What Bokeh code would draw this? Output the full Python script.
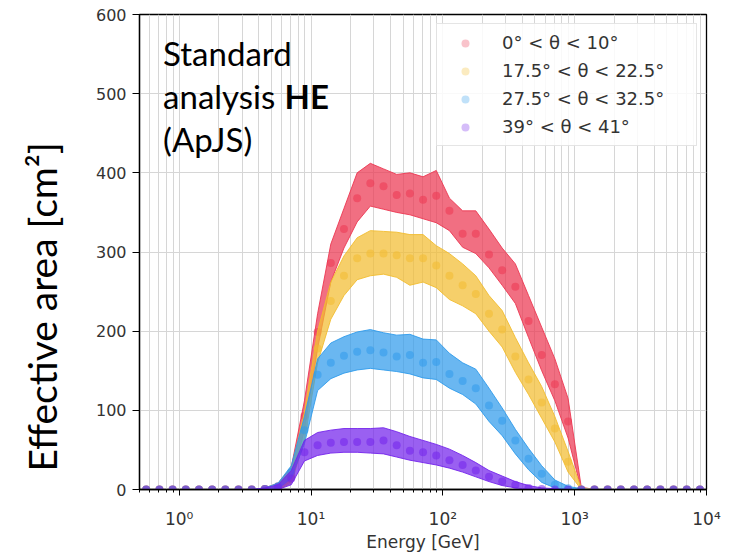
from bokeh.plotting import figure
from bokeh.models import (ColumnDataSource, FixedTicker, CustomJSTickFormatter, Legend,
                          LegendItem, Label, Range1d)
from bokeh.embed import file_html
from bokeh.resources import INLINE

# ---------------- data ----------------
energy = [0.562, 0.708, 0.891, 1.122, 1.413, 1.778, 2.239, 2.818, 3.548, 4.467,
          5.623, 7.079, 8.913, 11.22, 14.13, 17.78, 22.39, 28.18, 35.48, 44.67,
          56.23, 70.79, 89.13, 112.2, 141.3, 177.8, 223.9, 281.8, 354.8, 446.7,
          562.3, 707.9, 891.3, 1122, 1413, 1778, 2239, 2818, 3548, 4467,
          5623, 7079, 8913]

z9 = [0] * 9
z_tail = [0] * 9

red_mid = z9 + [0.5, 4, 18, 93, 199, 286, 329, 368, 387, 383, 372, 374, 366, 371, 352, 323, 323, 297, 277, 256, 213, 170, 133, 86, 0] + z_tail
red_lo = z9 + [0, 1, 10, 75, 178, 262, 305, 338, 358, 354, 350, 347, 342, 337, 327, 306, 298, 280, 258, 235, 192, 150, 112, 65, 0] + z_tail
red_hi = z9 + [2, 8, 28, 112, 222, 310, 355, 400, 412, 405, 398, 400, 395, 403, 368, 352, 352, 329, 305, 285, 245, 205, 165, 115, 3] + z_tail

yel_mid = z9 + [0.5, 3, 15, 80, 178, 238, 270, 292, 298, 298, 296, 292, 292, 283, 270, 258, 247, 222, 202, 168, 139, 110, 77, 35, 0] + z_tail
yel_lo = z9 + [0, 0, 8, 62, 160, 215, 245, 265, 270, 272, 268, 258, 262, 255, 240, 232, 222, 200, 180, 148, 120, 90, 60, 22, 0] + z_tail
yel_hi = z9 + [2, 7, 24, 98, 200, 262, 295, 318, 327, 326, 325, 322, 322, 308, 298, 285, 270, 245, 226, 192, 160, 130, 92, 48, 2] + z_tail

blu_mid = z9 + [0.5, 4, 22, 75, 145, 160, 169, 174, 176, 173, 168, 170, 160, 161, 146, 137, 128, 106, 87, 62, 39, 20, 6, 1.5, 0] + z_tail
blu_lo = z9 + [0, 1, 14, 58, 125, 140, 147, 151, 153, 151, 149, 146, 141, 139, 128, 120, 108, 86, 68, 45, 25, 9, 2, 0, 0] + z_tail
blu_hi = z9 + [2, 8, 30, 92, 165, 185, 193, 199, 202, 198, 195, 196, 190, 189, 172, 160, 152, 128, 103, 76, 52, 30, 12, 4, 1] + z_tail

pur_mid = z9 + [0.5, 3, 14, 47, 56, 59, 60, 60, 60, 62, 56, 49, 47, 43, 37, 31, 24, 16, 10, 6, 2, 0.5, 0, 0, 0] + z_tail
pur_lo = z9 + [0, 0, 6, 36, 43, 46, 47, 47, 46, 45, 41, 37, 34, 31, 27, 22, 16, 10, 5, 2, 0, 0, 0, 0, 0] + z_tail
pur_hi = z9 + [2, 6, 24, 62, 72, 75, 77, 77, 77, 78, 73, 67, 62, 57, 51, 43, 34, 24, 17, 10, 5, 2, 1, 0, 0] + z_tail

series_labels = ["0° < θ < 10°", "17.5° < θ < 22.5°", "27.5° < θ < 32.5°", "39° < θ < 41°"]
series_colors = ["#ec3752", "#f2bc30", "#309beb", "#7323eb"]
series_mid = [red_mid, yel_mid, blu_mid, pur_mid]
series_lo = [red_lo, yel_lo, blu_lo, pur_lo]
series_hi = [red_hi, yel_hi, blu_hi, pur_hi]

x_ticks = [1, 10, 100, 1000, 10000]
x_tick_labels = ["10⁰", "10¹", "10²", "10³", "10⁴"]
y_ticks = [0, 100, 200, 300, 400, 500, 600]

# ---------------- figure ----------------
p = figure(width=734, height=554, x_axis_type="log",
           x_range=Range1d(0.5, 1e4), y_range=Range1d(0, 600),
           output_backend="svg", toolbar_location=None,
           min_border_left=139, min_border_right=28,
           min_border_top=14, min_border_bottom=60)
p.background_fill_color = "white"
p.border_fill_color = "white"
p.outline_line_color = "black"
p.outline_line_width = 1.3

minor = []
for d in [0.1, 1, 10, 100, 1000]:
    for m in range(2, 10):
        v = d * m
        if 0.5 <= v <= 1e4:
            minor.append(v)

p.xaxis.ticker = FixedTicker(ticks=x_ticks, minor_ticks=minor)
p.xaxis.formatter = CustomJSTickFormatter(args=dict(labels=x_tick_labels),
                                          code="return labels[Math.round(Math.log10(tick))];")
p.yaxis.ticker = FixedTicker(ticks=y_ticks)

p.xgrid.grid_line_color = "#d6d6d6"
p.xgrid.minor_grid_line_color = "#d6d6d6"
p.ygrid.grid_line_color = "#d6d6d6"

for ax in (p.xaxis[0], p.yaxis[0]):
    ax.axis_line_color = "black"
    ax.axis_line_width = 1.3
    ax.major_tick_line_color = "black"
    ax.major_tick_in = 0
    ax.major_label_text_font = "DejaVu Sans"
    ax.major_label_text_color = "#333333"
p.yaxis.major_tick_out = 7
p.xaxis.major_tick_out = 6
p.yaxis.major_label_text_font_size = "16px"
p.xaxis.major_label_text_font_size = "17px"
p.xaxis.minor_tick_line_color = "black"
p.xaxis.minor_tick_out = 3
p.xaxis.minor_tick_in = 0
p.yaxis.minor_tick_line_color = None
p.xaxis.major_label_standoff = 13
p.yaxis.major_label_standoff = 6

p.xaxis.axis_label = "Energy [GeV]"
p.xaxis.axis_label_text_font = "DejaVu Sans"
p.xaxis.axis_label_text_font_size = "17px"
p.xaxis.axis_label_text_font_style = "normal"
p.xaxis.axis_label_text_color = "#333333"
p.xaxis.axis_label_standoff = 0

# y title; trailing no-break spaces move the visible text below the frame centre, as in the original
p.yaxis.axis_label = "Effective area [cm²]" + "\u00a0" * 11
p.yaxis.axis_label_text_font = "Lato"
p.yaxis.axis_label_text_font_size = "39px"
p.yaxis.axis_label_text_font_style = "normal"
p.yaxis.axis_label_text_color = "black"
p.yaxis.axis_label_standoff = 28

# ---------------- bands & points ----------------
legend_items = []
for lab, col, mid, lo, hi in zip(series_labels, series_colors, series_mid, series_lo, series_hi):
    src = ColumnDataSource(dict(x=energy, mid=mid, lo=lo, hi=hi))
    p.varea(x="x", y1="lo", y2="hi", source=src, fill_color=col, fill_alpha=0.72)
    p.line(x="x", y="lo", source=src, line_color=col, line_width=1, line_alpha=0.9)
    p.line(x="x", y="hi", source=src, line_color=col, line_width=1, line_alpha=0.9)
    p.scatter(x="x", y="mid", source=src, size=8, fill_color=col, fill_alpha=0.55, line_color=None)
    # off-range point, used only for the legend marker
    dummy = p.scatter(x=[0.01], y=[-1000], size=8, fill_color=col, fill_alpha=0.3, line_color=None)
    legend_items.append(LegendItem(label=lab, renderers=[dummy]))

legend = Legend(items=legend_items, location="top_right")
legend.margin = 9
legend.padding = 8
legend.spacing = 7
legend.glyph_width = 40
legend.glyph_height = 20
legend.label_standoff = 17
legend.label_width = 186
legend.label_text_font = "DejaVu Sans"
legend.label_text_font_size = "18px"
legend.label_text_color = "#333333"
legend.border_line_color = "#cccccc"
legend.border_line_width = 1
legend.background_fill_color = "white"
legend.background_fill_alpha = 0.85
p.add_layout(legend)

# ---------------- annotation text ----------------
ann_font = "Lato"
ann_size = "33px"
p.add_layout(Label(x=0.755, y=552, text="Standard", text_font=ann_font,
                   text_font_size=ann_size, text_baseline="alphabetic", text_color="black"))
p.add_layout(Label(x=0.755, y=497, text="analysis", text_font=ann_font,
                   text_font_size=ann_size, text_baseline="alphabetic", text_color="black"))
p.add_layout(Label(x=6.29, y=497, text="HE", text_font=ann_font, text_font_style="bold",
                   text_font_size=ann_size, text_baseline="alphabetic", text_color="black"))
p.add_layout(Label(x=0.755, y=443, text="(ApJS)", text_font=ann_font,
                   text_font_size=ann_size, text_baseline="alphabetic", text_color="black"))

open("out.html", "w").write(file_html(p, INLINE))
